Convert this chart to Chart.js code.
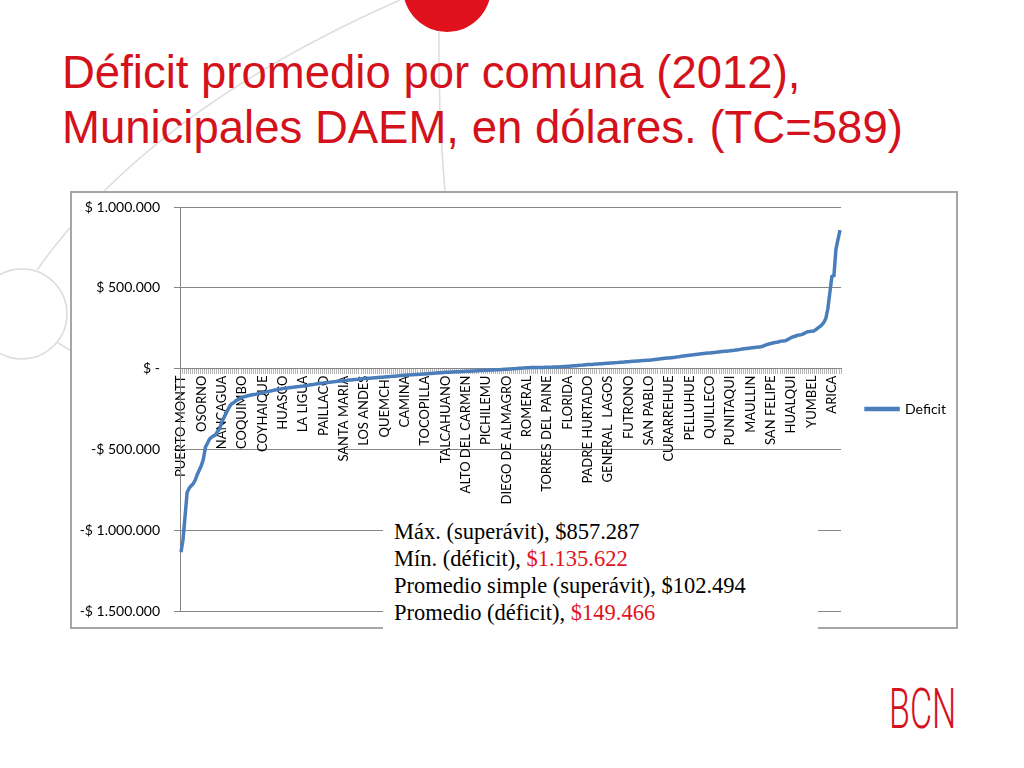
<!DOCTYPE html>
<html>
<head>
<meta charset="utf-8">
<script src="https://cdn.jsdelivr.net/npm/chart.js@4.4.0/dist/chart.umd.min.js"></script>
<style>
  body { margin: 0; width: 1024px; height: 768px; position: relative; background: #fff; overflow: hidden; font-family: "Liberation Sans", Arial, sans-serif; }
  #decor { position: absolute; left: 0; top: 0; }
  h1 { position: absolute; left: 62px; top: 45px; margin: 0; font-weight: normal; font-size: 45.5px; line-height: 55px; color: #d3121c; white-space: nowrap; }
  #box { position: absolute; left: 70px; top: 191px; width: 888px; height: 438px; border: 2px solid #a6a6a6; box-sizing: border-box; background: #fff; }
  #wrap { position: absolute; left: 0; top: 0; right: 0; bottom: 0; }
  #notes { position: absolute; left: 383px; top: 513px; width: 435px; height: 119px; background: #fff; box-sizing: border-box; padding: 5px 0 0 11px; font-family: "Liberation Serif", "Times New Roman", serif; font-size: 22.5px; line-height: 27px; color: #000; white-space: nowrap; }
  #notes .red { color: #e0141e; }
</style>
</head>
<body>
<svg id="decor" width="1024" height="768">
  <path d="M37 270 Q 150 110 400 0" fill="none" stroke="#dcdcdc" stroke-width="1.5"/>
  <circle cx="22" cy="314" r="45" fill="none" stroke="#dcdcdc" stroke-width="1.5"/>
  <path d="M58 343 L 70 350" fill="none" stroke="#dcdcdc" stroke-width="1.5"/>
  <path d="M439 32 Q 438 110 445 192" fill="none" stroke="#dcdcdc" stroke-width="1.5"/>
  <circle cx="447" cy="-12" r="44" fill="#e0101c"/>
  <text x="0" y="0" transform="translate(889 728) scale(0.62 1)" font-family="Roboto" font-weight="300" font-size="55" fill="#d3121c">BCN</text>
</svg>

<h1>Déficit promedio por comuna (2012),<br>Municipales DAEM, en dólares. (TC=589)</h1>

<div id="box"><div id="wrap"><canvas id="chart"></canvas></div></div>

<div id="notes">
  Máx. (superávit), $857.287<br>
  Mín. (déficit), <span class="red">$1.135.622</span><br>
  Promedio simple (superávit), $102.494<br>
  Promedio (déficit), <span class="red">$149.466</span>
</div>

<script>
// comunas shown on the axis (one every 10 categories)
const shownNames = ['PUERTO MONTT', 'OSORNO', 'NANCAGUA', 'COQUIMBO', 'COYHAIQUE', 'HUASCO', 'LA LIGUA',
  'PAILLACO', 'SANTA MARIA', 'LOS ANDES', 'QUEMCHI', 'CAMINA', 'TOCOPILLA', 'TALCAHUANO',
  'ALTO DEL CARMEN', 'PICHILEMU', 'DIEGO DE ALMAGRO', 'ROMERAL', 'TORRES DEL PAINE', 'FLORIDA',
  'PADRE HURTADO', 'GENERAL  LAGOS', 'FUTRONO', 'SAN PABLO', 'CURARREHUE', 'PELLUHUE', 'QUILLECO',
  'PUNITAQUI', 'MAULLIN', 'SAN FELIPE', 'HUALQUI', 'YUMBEL', 'ARICA'];
const labelEvery = 10;

// deficit per comuna, sorted, in dollars
const deficit = [
  -1135622, -1056000, -911000, -766000, -740000, -725000, -712000, -690000, -655000, -628000,
  -600000, -560000, -486000, -462000, -436000, -425000, -416000, -410000, -388000, -372000,
  -331000, -305000, -280000, -255000, -232000, -217000, -210000, -199000, -192000, -186000,
  -178000, -175000, -171000, -168000, -165000, -162000, -160000, -158000, -155000, -152000,
  -149000, -146000, -144000, -141000, -139000, -136000, -133000, -131000, -128000, -126000,
  -124000, -122000, -121000, -119000, -117000, -116000, -114000, -112000, -111000, -109000,
  -108000, -106000, -104000, -102000, -100000, -98000, -96000, -94000, -92000, -90000,
  -89000, -87000, -86000, -84000, -83000, -81000, -80000, -78000, -77000, -76000,
  -75000, -74000, -72000, -71000, -70000, -68000, -67000, -66000, -64000, -63000,
  -62000, -61000, -60000, -59000, -58000, -57000, -56000, -55000, -54000, -53000,
  -52000, -51000, -50000, -49000, -48000, -47000, -46000, -45000, -43000, -42000,
  -41000, -40000, -39000, -38500, -37500, -37000, -36000, -35000, -34500, -33500,
  -33000, -32000, -31000, -30000, -29000, -28000, -27000, -26000, -25000, -24000,
  -23000, -22500, -22000, -21500, -21000, -20000, -19500, -19000, -18000, -17500,
  -17000, -16500, -16000, -15000, -14500, -14000, -13000, -12500, -11500, -10500,
  -10000, -9500, -9000, -8500, -8000, -7000, -6500, -6000, -5000, -4500,
  -4000, -3000, -2500, -1500, -1000, 0, 1500, 2500, 3500, 4500,
  6000, 6000, 6500, 6500, 7000, 7000, 7000, 7500, 7500, 8000,
  8000, 8500, 9000, 9500, 10000, 10500, 11000, 12000, 12500, 13000,
  14000, 15000, 16000, 17000, 18000, 19000, 20000, 21500, 23000, 24000,
  25000, 25500, 26000, 27000, 28000, 28500, 29500, 30500, 31500, 32500,
  33000, 34000, 35000, 36000, 37000, 38000, 39000, 40000, 41000, 42000,
  43000, 44000, 45000, 46000, 47000, 47500, 48500, 49500, 50500, 51500,
  52000, 53000, 54500, 56000, 57500, 59000, 60500, 62000, 63500, 65000,
  66000, 67500, 69000, 70500, 72500, 74000, 76000, 78000, 80000, 81500,
  83000, 84500, 86000, 87500, 89000, 90500, 92000, 93500, 95000, 96000,
  97000, 98500, 100000, 101000, 102500, 104000, 105500, 107000, 108000, 109000,
  110000, 111500, 113000, 115000, 117000, 119000, 121000, 123000, 125000, 126500,
  128000, 129500, 131000, 132500, 134000, 135000, 138000, 143000, 148000, 152000,
  155000, 158000, 161000, 163000, 166000, 170000, 171000, 172000, 178000, 185000,
  192000, 197000, 200000, 207000, 208000, 210000, 215000, 222000, 228000, 229000,
  231000, 232000, 240000, 250000, 259000, 270000, 285000, 310000, 370000, 470000,
  570000, 576000, 740000, 800000, 857287
];

const yTicks = [1000000, 500000, 0, -500000, -1000000, -1500000];

const categories = deficit.map((v, i) => i % labelEvery === 0 ? shownNames[i / labelEvery] : '');

function money(v) {
  if (v === 0) return '$ -';
  const s = String(Math.abs(v)).replace(/\B(?=(\d{3})+(?!\d))/g, '.');
  return v < 0 ? '-$ ' + s : '$ ' + s;
}

const axisFont = { family: 'Lato, "Open Sans", sans-serif', size: 14 };
const catFont = { family: 'Lato, "Open Sans", sans-serif', size: 13 };

new Chart(document.getElementById('chart'), {
  type: 'line',
  data: {
    labels: categories,
    datasets: [{
      label: 'Deficit',
      data: deficit,
      borderColor: '#4a7ebb',
      backgroundColor: '#4a7ebb',
      borderWidth: 3.5,
      pointRadius: 0,
      fill: false,
      tension: 0
    }]
  },
  options: {
    responsive: true,
    maintainAspectRatio: false,
    animation: false,
    devicePixelRatio: 1,
    layout: { padding: { top: 14, right: 0, bottom: 16, left: 0 } },
    plugins: {
      legend: {
        position: 'right',
        maxWidth: 116,
        labels: { boxWidth: 32, boxHeight: 1, color: '#000', font: axisFont, padding: 25 }
      },
      tooltip: { enabled: false }
    },
    scales: {
      x: {
        type: 'category',
        position: { y: 0 },
        offset: true,
        grid: { drawOnChartArea: false, tickLength: 5, color: '#b4b4b4', offset: true },
        border: { color: '#868686' },
        ticks: { autoSkip: false, minRotation: 90, maxRotation: 90, padding: 2, color: '#000', font: catFont }
      },
      y: {
        min: -1500000,
        max: 1000000,
        afterFit: s => { s.width = 108; s.paddingTop = 0; s.paddingBottom = 0; },
        afterBuildTicks: s => { s.ticks = yTicks.map(v => ({ value: v })); },
        grid: { color: '#868686', tickLength: 6 },
        border: { color: '#868686' },
        ticks: { callback: v => money(v), color: '#000', font: axisFont, padding: 14 }
      }
    }
  }
});
</script>
</body>
</html>
